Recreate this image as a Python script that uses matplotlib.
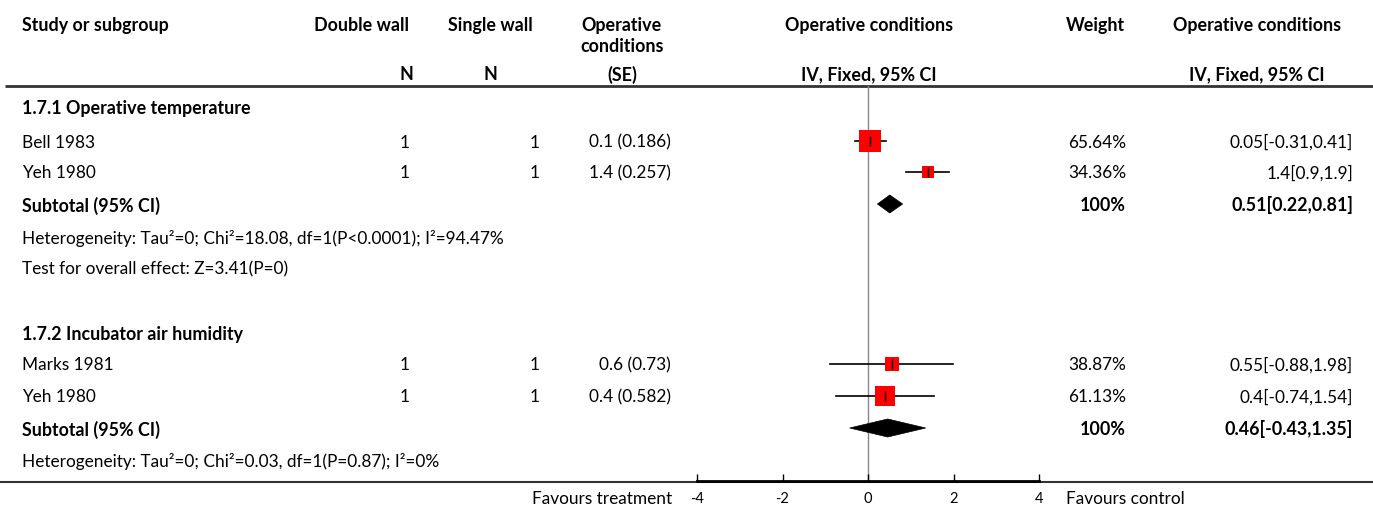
import matplotlib
matplotlib.use("Agg")
import matplotlib.pyplot as plt
from matplotlib.patches import Polygon

plt.rcParams['font.family'] = ['Lato', 'DejaVu Sans']

# ---------------- data ----------------
subgroups = ["1.7.1 Operative temperature", "1.7.2 Incubator air humidity"]
studies = [["Bell 1983", "Yeh 1980"], ["Marks 1981", "Yeh 1980"]]
n_double = [[1, 1], [1, 1]]
n_single = [[1, 1], [1, 1]]
est_se = [[(0.1, 0.186), (1.4, 0.257)], [(0.6, 0.73), (0.4, 0.582)]]
weights = [[65.64, 34.36], [38.87, 61.13]]
ci_est = [[0.05, 1.4], [0.55, 0.4]]
ci_lo = [[-0.31, 0.9], [-0.88, -0.74]]
ci_hi = [[0.41, 1.9], [1.98, 1.54]]
sub_est = [0.51, 0.46]
sub_lo = [0.22, -0.43]
sub_hi = [0.81, 1.35]
heterogeneity = ["Heterogeneity: Tau²=0; Chi²=18.08, df=1(P<0.0001); I²=94.47%",
                 "Heterogeneity: Tau²=0; Chi²=0.03, df=1(P=0.87); I²=0%"]
overall = ["Test for overall effect: Z=3.41(P=0)", None]
xticks = [-4, -2, 0, 2, 4]

# ---------------- layout ----------------
W, H = 1373, 509
fig = plt.figure(figsize=(W / 100, H / 100), dpi=100)
tax = fig.add_axes([0, 0, 1, 1])
tax.set_xlim(0, W)
tax.set_ylim(H, 0)
tax.axis('off')

bold = dict(fontsize=12.9, fontweight='bold', va='center')
norm = dict(fontsize=12.4, va='center')
dy = 1.5  # small baseline correction for text

def txt(x, y, s, **kw):
    tax.text(x, y + dy, s, **kw)

# header
txt(22, 24, "Study or subgroup", ha='left', **bold)
txt(409, 24, "Double wall", ha='right', **bold)
txt(490, 24, "Single wall", ha='center', **bold)
txt(622, 24, "Operative", ha='center', **bold)
txt(622, 45, "conditions", ha='center', **bold)
txt(869, 24, "Operative conditions", ha='center', **bold)
txt(1125, 24, "Weight", ha='right', **bold)
txt(1257, 24, "Operative conditions", ha='center', **bold)
txt(406, 73, "N", ha='center', **bold)
txt(490, 73, "N", ha='center', **bold)
txt(622, 73, "(SE)", ha='center', **bold)
txt(869, 73, "IV, Fixed, 95% CI", ha='center', **bold)
txt(1257, 73, "IV, Fixed, 95% CI", ha='center', **bold)
tax.plot([5, W], [86, 86], color='#333333', lw=2, solid_capstyle='butt')
tax.plot([0, W], [482, 482], color='#333333', lw=1.5, solid_capstyle='butt')

# forest axes
fax = fig.add_axes([697 / W, (H - 481) / H, 342 / W, 395 / H])
fax.set_xlim(-4, 4)
fax.set_ylim(481, 86)
fax.patch.set_alpha(0)
for s in ['top', 'right', 'left']:
    fax.spines[s].set_visible(False)
fax.spines['bottom'].set_linewidth(2)
fax.set_yticks([])
fax.set_xticks(xticks)
fax.set_xticklabels([str(t) for t in xticks])
fax.tick_params(axis='x', direction='in', length=5, width=1, labelsize=10.5, pad=8)
fax.axvline(0, color='#888888', lw=1, zorder=0)

group_rows = [dict(head=107, rows=[141, 172], sub=204, het=237, ov=268),
              dict(head=333, rows=[364, 396], sub=428, het=460, ov=None)]

px2pt = 0.72
for g, lay in enumerate(group_rows):
    txt(22, lay['head'], subgroups[g], ha='left', **bold)
    for i, y in enumerate(lay['rows']):
        txt(22, y, studies[g][i], ha='left', **norm)
        txt(410, y, str(n_double[g][i]), ha='right', **norm)
        txt(540, y, str(n_single[g][i]), ha='right', **norm)
        e, s = est_se[g][i]
        txt(671, y, f"{e:g} ({s:g})", ha='right', **norm)
        txt(1126, y, f"{weights[g][i]:.2f}%", ha='right', **norm)
        txt(1353, y, f"{ci_est[g][i]:g}[{ci_lo[g][i]:g},{ci_hi[g][i]:g}]",
            ha='right', **norm)
        fax.plot([ci_lo[g][i], ci_hi[g][i]], [y, y], color='black', lw=1.2,
                 clip_on=False, zorder=2)
        side = weights[g][i] * 0.335 * px2pt
        fax.plot([ci_est[g][i]], [y], marker='s', markersize=side, color='#ff0000',
                 markeredgewidth=0, clip_on=False, zorder=3)
        fax.plot([ci_est[g][i]], [y], marker='|', markersize=10 * px2pt, color='black',
                 markeredgewidth=1, clip_on=False, zorder=4)
    ys = lay['sub']
    txt(22, ys, "Subtotal (95% CI)", ha='left', **bold)
    txt(1126, ys, "100%", ha='right', **bold)
    txt(1353, ys, f"{sub_est[g]:g}[{sub_lo[g]:g},{sub_hi[g]:g}]", ha='right', **bold)
    dia = Polygon([[sub_lo[g], ys], [sub_est[g], ys - 9], [sub_hi[g], ys], [sub_est[g], ys + 9]],
                  closed=True, facecolor='black', edgecolor='black', lw=0.5, clip_on=False, zorder=3)
    fax.add_patch(dia)
    txt(22, lay['het'], heterogeneity[g], ha='left', **norm)
    if overall[g]:
        txt(22, lay['ov'], overall[g], ha='left', **norm)

txt(672, 498, "Favours treatment", ha='right', **norm)
txt(1066, 498, "Favours control", ha='left', **norm)

fig.savefig("out.png", dpi=100)
